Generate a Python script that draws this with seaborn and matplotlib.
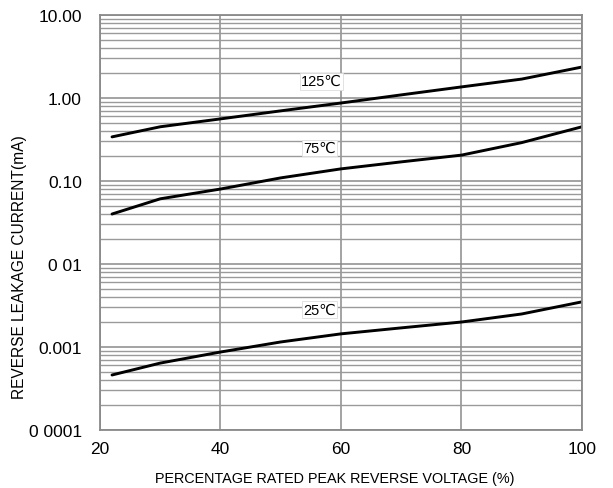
import matplotlib
matplotlib.use('Agg')
import matplotlib.pyplot as plt
import pandas as pd
import seaborn as sns
from matplotlib.ticker import FixedLocator, FixedFormatter, LogLocator, NullFormatter

sns.set_style('white')
plt.rcParams['font.family'] = ['Liberation Sans', 'DejaVu Sans']
plt.rcParams['text.color'] = 'black'
plt.rcParams['axes.labelcolor'] = 'black'

# data
voltage_pct = [22, 30, 40, 50, 60, 70, 80, 90, 100]
leak_125 = [0.34, 0.45, 0.56, 0.70, 0.87, 1.09, 1.36, 1.69, 2.36]
leak_75 = [0.040, 0.061, 0.080, 0.109, 0.14, 0.17, 0.205, 0.29, 0.45]
leak_25 = [0.00046, 0.00064, 0.00087, 0.00115, 0.00144, 0.0017, 0.0020, 0.0025, 0.0035]

y_ticks = [1e-4, 1e-3, 1e-2, 1e-1, 1, 10]
y_tick_labels = ['0 0001', '0.001', '0 01', '0.10', '1.00', '10.00']
x_ticks = [20, 40, 60, 80, 100]

df = pd.DataFrame({
    'pct': voltage_pct * 3,
    'current': leak_125 + leak_75 + leak_25,
    'temp': ['125℃'] * 9 + ['75℃'] * 9 + ['25℃'] * 9,
})

fig = plt.figure(figsize=(6.13, 4.89), dpi=100)
ax = fig.add_axes([0.1631, 0.1186, 0.7863, 0.8487])

for t in ['125℃', '75℃', '25℃']:
    sns.lineplot(data=df[df.temp == t], x='pct', y='current', color='black',
                 linewidth=2.1, ax=ax, legend=False)

ax.set_yscale('log')
ax.set_xlim(20, 100)
ax.set_ylim(1e-4, 10)

ax.yaxis.set_major_locator(FixedLocator(y_ticks))
ax.yaxis.set_major_formatter(FixedFormatter(y_tick_labels))
ax.yaxis.set_minor_locator(LogLocator(base=10, subs=range(2, 10)))
ax.yaxis.set_minor_formatter(NullFormatter())
ax.set_xticks(x_ticks)

ax.grid(True, which='major', color='#8a8a8a', linewidth=1.1)
ax.grid(True, which='minor', axis='y', color='#9a9a9a', linewidth=1.0)
ax.tick_params(which='both', length=0, labelsize=12.5, colors='black')
ax.tick_params(axis='y', pad=13)
ax.tick_params(axis='x', pad=8)
for s in ax.spines.values():
    s.set_color('#8a8a8a')
    s.set_linewidth(1.3)

ax.set_xlabel('PERCENTAGE RATED PEAK REVERSE VOLTAGE (%)', fontsize=10.4, color='black')
ax.xaxis.set_label_coords(0.488, -0.099)
ax.set_ylabel('REVERSE LEAKAGE CURRENT(mA)', fontsize=11.2, color='black')
ax.yaxis.set_label_coords(-0.151, 0.395)

box = dict(facecolor='white', edgecolor='#dddddd', linewidth=0.6, pad=1.0)
ax.text(53.4, 1.60, '125℃', fontsize=10.5, va='center', ha='left', color='black', bbox=box)
ax.text(53.7, 0.25, '75℃', fontsize=10.5, va='center', ha='left', color='black', bbox=box)
ax.text(53.7, 0.0028, '25℃', fontsize=10.5, va='center', ha='left', color='black', bbox=box)

plt.savefig('out.png', dpi=100)
